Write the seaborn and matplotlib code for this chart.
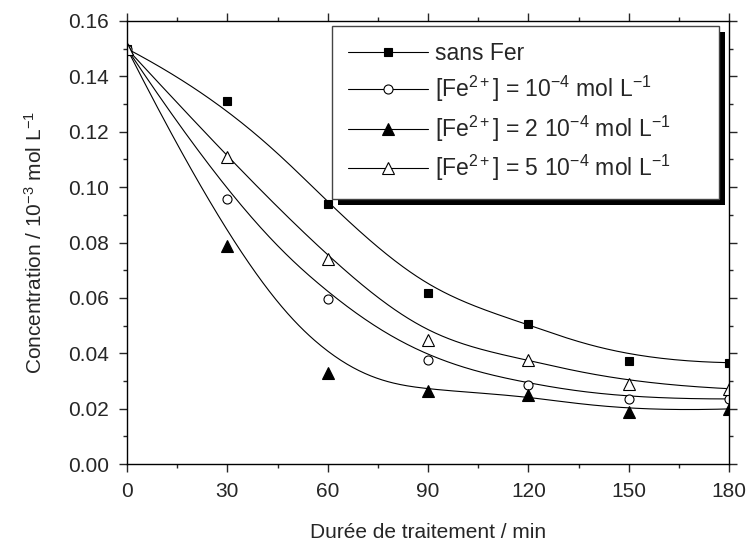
import numpy as np
import pandas as pd
import matplotlib
matplotlib.use("Agg")
import matplotlib.pyplot as plt
import seaborn as sns
from matplotlib.lines import Line2D
from matplotlib.patches import Rectangle

# data
time_min = [0, 30, 60, 90, 120, 150, 180]
sans_fer = [0.150, 0.131, 0.0938, 0.0617, 0.0507, 0.0373, 0.0366]
fe_1e4 = [0.150, 0.0956, 0.0596, 0.0375, 0.0286, 0.0235, 0.0235]
fe_2e4 = [0.150, 0.0787, 0.0328, 0.0264, 0.0250, 0.0188, 0.0199]
fe_5e4 = [0.150, 0.1107, 0.0741, 0.0449, 0.0377, 0.0290, 0.0272]

series_labels = [
    "sans Fer",
    r"[Fe$^{2+}$] = 10$^{-4}$ mol L$^{-1}$",
    r"[Fe$^{2+}$] = 2 10$^{-4}$ mol L$^{-1}$",
    r"[Fe$^{2+}$] = 5 10$^{-4}$ mol L$^{-1}$",
]
series_values = [sans_fer, fe_1e4, fe_2e4, fe_5e4]
markers = ["s", "o", "^", "^"]
face = ["black", "white", "black", "white"]
msizes = [6, 6.5, 8.5, 8.5]


def bspline(xs, ys, k=3, n=300):
    # clamped cubic B-spline with the data points as control points
    p = np.column_stack([xs, ys])
    m = len(p)
    t = np.concatenate([np.zeros(k), np.linspace(0, 1, m - k + 1), np.ones(k)])
    u = np.linspace(0, 1, n)
    u[-1] -= 1e-9
    N = np.zeros((n, len(t) - 1))
    for i in range(len(t) - 1):
        N[:, i] = (t[i] <= u) & (u < t[i + 1])
    for d in range(1, k + 1):
        Nn = np.zeros((n, len(t) - 1 - d))
        for i in range(len(t) - 1 - d):
            a = 0.0
            b = 0.0
            den1 = t[i + d] - t[i]
            den2 = t[i + d + 1] - t[i + 1]
            if den1 > 0:
                a = (u - t[i]) / den1 * N[:, i]
            if den2 > 0:
                b = (t[i + d + 1] - u) / den2 * N[:, i + 1]
            Nn[:, i] = a + b
        N = Nn
    c = N @ p
    return c[:, 0], c[:, 1]


sns.set_style("ticks")
plt.rcParams["font.family"] = ["Liberation Sans", "DejaVu Sans"]
plt.rcParams["mathtext.fontset"] = "custom"
plt.rcParams["mathtext.rm"] = "Liberation Sans"
plt.rcParams["mathtext.it"] = "Liberation Sans:italic"
plt.rcParams["mathtext.default"] = "regular"

fig = plt.figure(figsize=(7.49, 5.45), dpi=100)
ax = fig.add_axes([127 / 749, 1 - 464 / 545, 602 / 749, 443 / 545])

for vals, mk, fc, ms in zip(series_values, markers, face, msizes):
    cx, cy = bspline(time_min, vals)
    curve = pd.DataFrame({"t": cx, "c": cy})
    sns.lineplot(data=curve, x="t", y="c", ax=ax, color="black", lw=0.8,
                 sort=False, estimator=None)
    sns.lineplot(x=time_min, y=vals, ax=ax, marker=mk, linestyle="none",
                 color="black", markerfacecolor=fc, markeredgecolor="black",
                 markeredgewidth=0.8, ms=ms)

ax.set_xlim(0, 180)
ax.set_ylim(0, 0.16)
ax.set_xticks(np.arange(0, 181, 30))
ax.set_xticks(np.arange(15, 180, 30), minor=True)
ax.set_yticks(np.arange(0, 0.161, 0.02))
ax.set_yticks(np.arange(0.01, 0.16, 0.02), minor=True)
ax.set_yticklabels([f"{v:.2f}" for v in np.arange(0, 0.161, 0.02)])
ax.tick_params(which="both", direction="out", top=True, right=True,
               labeltop=False, labelright=False, width=1.0, labelsize=15)
ax.tick_params(which="major", length=6, pad=7)
ax.tick_params(which="minor", length=3)
for s in ax.spines.values():
    s.set_linewidth(1.0)
    s.set_color("black")

ax.set_xlabel("Durée de traitement / min", fontsize=15, labelpad=16)
ax.set_ylabel(r"Concentration / 10$^{-3}$ mol L$^{-1}$", fontsize=15, labelpad=16)

handles = [Line2D([], [], color="black", lw=0.8, marker=mk, ms=ms,
                  markerfacecolor=fc, markeredgecolor="black", markeredgewidth=0.8)
           for mk, fc, ms in zip(markers, face, msizes)]
leg = ax.legend(handles, series_labels, loc="upper left",
                bbox_to_anchor=(0.3405, 0.607, 0.6425, 0.3817), mode="expand",
                borderaxespad=0, fontsize=16.5, frameon=True, fancybox=False,
                handlelength=3.5, handletextpad=0.3, labelspacing=0.4,
                borderpad=0.7, framealpha=1)
leg.get_frame().set_edgecolor("#444444")
leg.get_frame().set_facecolor("white")
leg.get_frame().set_linewidth(1.0)
leg.set_zorder(5)

fig.canvas.draw()
bb = leg.get_window_extent()
inv = ax.transAxes.inverted()
(x0, y0) = inv.transform((bb.x0 + 6, bb.y0 - 6))
(x1, y1) = inv.transform((bb.x1 + 6, bb.y1 - 6))
ax.add_patch(Rectangle((x0, y0), x1 - x0, y1 - y0, transform=ax.transAxes,
                       facecolor="black", edgecolor="none", zorder=4.9,
                       clip_on=False))

fig.savefig("out.png", dpi=100)
